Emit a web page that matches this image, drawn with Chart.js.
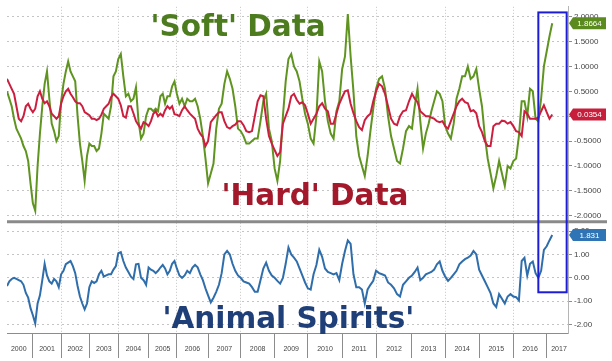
<!DOCTYPE html>
<html><head><meta charset="utf-8">
<script src="https://cdn.jsdelivr.net/npm/chart.js@4.4.1/dist/chart.umd.min.js"></script>
<style>
html,body{margin:0;padding:0;background:#fff;}
#wrap{position:relative;width:612px;height:361px;overflow:hidden;}
#c{position:absolute;left:0;top:0;}
.ttl{position:absolute;font-family:"DejaVu Sans";font-weight:bold;font-size:29.5px;line-height:normal;white-space:nowrap;}
</style></head><body>
<div id="wrap">
<canvas id="c" width="612" height="361"></canvas>
<div class="ttl" style="left:150.5px;top:8.6px;color:#4d7c1f">'Soft' Data</div>
<div class="ttl" style="left:221.5px;top:177.6px;color:#a3182a">'Hard' Data</div>
<div class="ttl" style="left:162.5px;top:300.6px;color:#1f3f78">'Animal Spirits'</div>
</div>
<script>
// ---- data (monthly readings, Feb 2000 .. Mar 2017) ----
const firstYear = 2000;
const firstMonth = 1; // February
const yearLabels = ['2000','2001','2002','2003','2004','2005','2006','2007','2008','2009','2010','2011','2012','2013','2014','2015','2016','2017'];

const softData = [
  0.5, 0.35, 0.2, -0.05, -0.25, -0.35, -0.45, -0.6, -0.7, -0.9, -1.35,
  -1.75, -1.9, -1.0, -0.35, 0.2, 0.65, 0.9, 0.35, -0.15, -0.3, -0.5, -0.4,
  0.3, 0.65, 0.9, 1.1, 0.9, 0.8, 0.7, 0.0, -0.55, -0.9, -1.3, -0.8,
  -0.55, -0.6, -0.6, -0.7, -0.65, -0.35, 0.05, 0.0, -0.05, 0.2, 0.8, 0.9,
  1.15, 1.25, 0.8, 0.4, 0.45, 0.3, 0.35, 0.58, -0.1, -0.45, -0.35, 0.0,
  0.15, 0.15, 0.1, 0.15, 0.1, 0.4, 0.45, 0.25, 0.4, 0.4, 0.6, 0.7,
  0.45, 0.25, 0.35, 0.2, 0.35, 0.3, 0.3, 0.35, 0.2, -0.05, -0.4, -0.85,
  -1.35, -1.15, -0.95, -0.25, 0.15, 0.25, 0.65, 0.9, 0.75, 0.55, 0.2, -0.25,
  -0.3, -0.4, -0.55, -0.55, -0.5, -0.45, -0.45, -0.1, 0.3, 0.45, -0.25, -0.5,
  -1.05, -1.3, -0.9, 0.0, 0.7, 1.15, 1.25, 1.0, 0.9, 0.7, 0.35, 0.05,
  -0.15, -0.45, -0.55, 0.0, 1.1, 0.9, 0.3, -0.1, -0.35, -0.45, 0.1, 0.3,
  0.95, 1.2, 2.05, 1.2, 0.5, -0.4, -0.8, -1.0, -1.2, -0.8, -0.3, 0.15,
  0.55, 0.75, 0.8, 0.55, 0.0, -0.4, -0.65, -0.9, -0.95, -0.65, -0.3, -0.2,
  -0.25, 0.2, 0.55, -0.1, -0.65, -0.35, -0.15, 0.1, 0.3, 0.5, 0.45, 0.3,
  -0.2, -0.35, -0.45, -0.15, 0.35, 0.55, 0.8, 0.8, 1.0, 0.75, 0.8, 0.95,
  0.55, 0.2, -0.4, -0.85, -1.15, -1.45, -1.2, -0.9, -1.15, -1.4, -1.0, -1.05,
  -0.9, -0.85, -0.4, 0.3, 0.3, 0.0, 0.55, 0.5, -0.05, -0.1, 0.35, 1.0,
  1.3, 1.6, 1.8664
];

const hardData = [
  0.75, 0.65, 0.55, 0.45, 0.2, -0.05, -0.1, 0.0, 0.2, 0.25, 0.15,
  0.08, 0.15, 0.4, 0.5, 0.35, 0.26, 0.3, 0.2, 0.05, 0.0, -0.05, 0.0,
  0.25, 0.4, 0.5, 0.55, 0.45, 0.38, 0.3, 0.26, 0.26, 0.2, 0.08, 0.05,
  0.02, -0.05, -0.05, -0.08, -0.05, 0.03, 0.15, 0.2, 0.25, 0.38, 0.45, 0.4,
  0.35, 0.22, 0.0, -0.03, 0.2, 0.2, 0.06, -0.1, -0.18, -0.25, -0.12, -0.15,
  -0.2, -0.1, 0.05, 0.1, 0.0, 0.05, 0.0, 0.12, 0.2, 0.15, 0.2, 0.04,
  0.03, 0.0, 0.12, 0.2, 0.12, 0.05, 0.0, -0.05, -0.25, -0.35, -0.42, -0.6,
  -0.5, -0.12, -0.05, 0.02, 0.08, 0.08, -0.1, -0.22, -0.25, -0.2, -0.17, -0.1,
  -0.1, -0.18, -0.3, -0.32, -0.3, 0.0, 0.3, 0.42, 0.4, -0.05, -0.4, -0.55,
  -0.68, -0.8, -0.72, -0.15, 0.0, 0.15, 0.4, 0.45, 0.33, 0.25, 0.28, 0.22,
  0.05, -0.15, -0.05, 0.05, 0.2, 0.26, 0.15, 0.1, -0.15, -0.15, 0.05, 0.25,
  0.38, 0.5, 0.52, 0.25, 0.06, -0.1, -0.22, -0.28, -0.08, 0.0, 0.05, 0.3,
  0.5, 0.65, 0.6, 0.45, 0.2, -0.05, -0.15, -0.18, 0.0, 0.1, 0.12, 0.3,
  0.45, 0.35, 0.28, 0.1, 0.05, 0.0, 0.0, -0.03, -0.05, -0.1, -0.12, -0.1,
  -0.2, -0.25, -0.1, 0.05, 0.2, 0.3, 0.35, 0.28, 0.26, 0.1, 0.12, 0.06,
  -0.2, -0.32, -0.5, -0.6, -0.6, -0.2, -0.15, -0.15, -0.09, -0.1, -0.15, -0.12,
  -0.2, -0.3, -0.32, -0.4, 0.1, 0.05, -0.05, -0.05, -0.05, -0.03, 0.1, 0.22,
  0.08, -0.05, 0.0354
];

const spiritsData = [
  -0.35, -0.15, -0.05, 0.0, -0.05, -0.1, -0.15, -0.3, -0.65, -0.85, -1.3,
  -1.6, -1.95, -1.1, -0.75, -0.1, 0.6, 0.1, -0.15, -0.25, -0.05, -0.15, -0.4,
  0.15, 0.3, 0.58, 0.65, 0.72, 0.5, 0.2, -0.35, -0.8, -1.1, -1.35, -1.1,
  -0.4, -0.15, -0.22, -0.15, 0.15, 0.3, 0.05, 0.1, 0.15, 0.15, 0.35, 0.5,
  1.05, 1.1, 0.72, 0.44, 0.25, 0.05, -0.05, 0.58, 0.6, 0.0, -0.1, -0.3,
  0.44, 0.35, 0.3, 0.2, 0.3, 0.44, 0.55, 0.4, 0.15, 0.3, 0.6, 0.72,
  0.4, 0.1, 0.0, 0.1, 0.3, 0.2, 0.44, 0.55, 0.45, 0.15, -0.1, -0.45,
  -0.75, -1.05, -0.85, -0.6, -0.3, 0.2, 1.0, 1.15, 1.0, 0.6, 0.3, 0.1,
  0.0, -0.15, -0.2, -0.25, -0.4, -0.6, -0.6, -0.1, 0.4, 0.65, 0.3, 0.1,
  0.0, -0.13, -0.25, 0.0, 0.6, 1.3, 1.0, 0.86, 0.7, 0.4, 0.1, -0.2,
  -0.45, -0.5, 0.15, 0.55, 1.2, 0.9, 0.4, 0.25, 0.2, 0.15, 0.2, -0.1,
  0.6, 1.15, 1.6, 1.45, 0.15, -0.4, -0.4, -0.5, -1.1, -0.5, -0.3, -0.13,
  0.3, 0.2, 0.15, 0.1, -0.2, -0.3, -0.45, -0.7, -0.8, -0.3, -0.15, 0.0,
  0.1, 0.25, 0.44, -0.1, 0.0, 0.15, 0.2, 0.25, 0.35, 0.58, 0.7, 0.3,
  0.05, -0.13, 0.0, 0.15, 0.3, 0.58, 0.7, 0.8, 0.86, 0.95, 1.15, 1.0,
  0.35, 0.1, -0.15, -0.4, -0.65, -1.1, -1.25, -0.7, -0.9, -1.1, -0.8, -0.7,
  -0.8, -0.83, -0.97, 0.72, 0.86, 0.1, 0.6, 0.7, 0.2, 0.0, 0.3, 1.2,
  1.35, 1.6, 1.831
];

// ---- layout / style settings ----
// relative on-screen width of each calendar year on the source chart's time axis
const yearWidths = [28.3, 28.3, 28.3, 29.0, 30.4, 28.3, 31.3, 32.7, 34.0, 33.3, 34.4, 34.0, 36.0, 33.3, 34.0, 34.3, 33.4, 33.4];
const xMax = 2017.64;
const boxFrom = 2016.75, boxTo = 2017.6, boxTopVal = 2.085, boxBottomVal = -0.62;

const softColor = '#5f9420', hardColor = '#cc1f3f', spiritsColor = '#2f6eab';
const axisColor = '#8c8c8c', gridColor = '#c4c4c4', labelColor = '#444';

const dates = softData.map((_, i) => firstYear + (firstMonth + i) / 12);
const pts = arr => arr.map((v, i) => ({x: dates[i], y: v}));

class WarpScale extends Chart.LinearScale {
  warp(v) {
    const n = yearWidths.length;
    let k = Math.floor(v - firstYear);
    k = Math.max(0, Math.min(n - 1, k));
    let p = 0;
    for (let i = 0; i < k; i++) p += yearWidths[i];
    return p + (v - firstYear - k) * yearWidths[k];
  }
  getPixelForValue(value) {
    if (value === null || value === undefined || isNaN(value)) return NaN;
    const a = this.warp(this.min), b = this.warp(this.max);
    return this.getPixelForDecimal((this.warp(value) - a) / (b - a));
  }
  getValueForPixel(pixel) {
    const a = this.warp(this.min), b = this.warp(this.max);
    const t = a + this.getDecimalForPixel(pixel) * (b - a);
    let p = 0;
    for (let i = 0; i < yearWidths.length; i++) {
      if (t <= p + yearWidths[i] || i === yearWidths.length - 1) return firstYear + i + (t - p) / yearWidths[i];
      p += yearWidths[i];
    }
  }
}
WarpScale.id = 'warp';
WarpScale.defaults = Chart.LinearScale.defaults;
Chart.register(WarpScale);

const overlay = {
  id: 'overlay',
  afterDraw(chart) {
    const {ctx, chartArea: ca, scales} = chart;
    const x = scales.x, y = scales.y, y2 = scales.y2;
    ctx.save();
    // panel separator
    ctx.strokeStyle = '#8a8a8a'; ctx.lineWidth = 3;
    ctx.beginPath(); ctx.moveTo(ca.left, y.bottom); ctx.lineTo(chart.width - 5, y.bottom); ctx.stroke();
    // highlight box
    const bx0 = x.getPixelForValue(boxFrom), bx1 = x.getPixelForValue(boxTo);
    const by0 = y.getPixelForValue(boxTopVal), by1 = y2.getPixelForValue(boxBottomVal);
    ctx.strokeStyle = '#1c1cd4'; ctx.lineWidth = 2;
    ctx.strokeRect(bx0, by0, bx1 - bx0, by1 - by0);
    // last value badges
    const badges = [
      {sc: y, v: softData[softData.length - 1], txt: softData[softData.length - 1].toFixed(4), col: '#5b8a1f'},
      {sc: y, v: hardData[hardData.length - 1], txt: hardData[hardData.length - 1].toFixed(4), col: '#c81e3c'},
      {sc: y2, v: spiritsData[spiritsData.length - 1], txt: spiritsData[spiritsData.length - 1].toFixed(3), col: '#2f75b5'}
    ];
    badges.forEach(b => {
      const py = b.sc.getPixelForValue(b.v);
      const left = b.sc.left + 1, w = 37, h = 12;
      ctx.fillStyle = b.col;
      ctx.beginPath();
      ctx.moveTo(left, py); ctx.lineTo(left + 4, py - h / 2); ctx.lineTo(left + w, py - h / 2);
      ctx.lineTo(left + w, py + h / 2); ctx.lineTo(left + 4, py + h / 2); ctx.closePath(); ctx.fill();
      ctx.fillStyle = '#fff'; ctx.font = '8px "Liberation Sans"';
      ctx.textAlign = 'center'; ctx.textBaseline = 'middle';
      ctx.fillText(b.txt, left + 4 + (w - 4) / 2, py + 0.5);
    });
    ctx.restore();
  }
};

new Chart(document.getElementById('c'), {
  type: 'line',
  data: {
    datasets: [
      {label: "'Hard' Data", data: pts(hardData), yAxisID: 'y', borderColor: hardColor, borderWidth: 2, pointRadius: 0, tension: 0},
      {label: "'Soft' Data", data: pts(softData), yAxisID: 'y', borderColor: softColor, borderWidth: 2, pointRadius: 0, tension: 0},
      {label: "'Animal Spirits'", data: pts(spiritsData), yAxisID: 'y2', borderColor: spiritsColor, borderWidth: 2, pointRadius: 0, tension: 0}
    ]
  },
  options: {
    responsive: false,
    animation: false,
    layout: {padding: {left: 7, top: 2, right: 0, bottom: 0}},
    plugins: {legend: {display: false}, tooltip: {enabled: false}},
    scales: {
      x: {
        type: 'warp', min: dates[0], max: xMax,
        afterBuildTicks: s => {
          const t = [];
          yearLabels.forEach((lab, i) => {
            const yr = firstYear + i;
            if (yr > firstYear) t.push({value: yr, kind: 'b'});
            const c = (yr + 1 <= s.max) ? yr + 0.5 : (yr + s.max) / 2 + 0.05;
            t.push({value: c, kind: 'l', yr: lab});
          });
          t.sort((a, b) => a.value - b.value);
          s.ticks = t;
        },
        afterFit: s => { s.height = 28; },
        ticks: {
          autoSkip: false, maxRotation: 0, padding: -13, color: labelColor,
          font: {family: 'Liberation Sans', size: 7},
          callback: function (v, i, ticks) { return ticks[i].yr || ''; }
        },
        grid: {
          color: c => (c.tick && c.tick.kind === 'b' && c.tick.value % 2 === 0) ? gridColor : 'rgba(0,0,0,0)',
          tickColor: c => (c.tick && c.tick.kind === 'b') ? axisColor : 'rgba(0,0,0,0)',
          tickLength: 25, tickBorderDash: [], lineWidth: 1
        },
        border: {display: true, color: axisColor, dash: [1, 2]}
      },
      y: {
        type: 'linear', position: 'right', stack: 'panels', stackWeight: 218,
        min: -2.119, max: 2.198,
        afterFit: s => { s.width = 44; },
        ticks: {stepSize: 0.5, includeBounds: false, padding: 2, color: labelColor,
          font: {family: 'Liberation Sans', size: 8}, callback: v => Number(v).toFixed(4)},
        grid: {color: gridColor, tickColor: axisColor, tickLength: 4, tickBorderDash: []},
        border: {color: '#b5b5b5', dash: [2, 3]}
      },
      y2: {
        type: 'linear', position: 'right', stack: 'panels', stackWeight: 113,
        min: -2.363, max: 2.405,
        afterFit: s => { s.width = 44; },
        ticks: {stepSize: 1, includeBounds: false, padding: 2, color: labelColor,
          font: {family: 'Liberation Sans', size: 8}, callback: v => Number(v).toFixed(2)},
        grid: {color: gridColor, tickColor: axisColor, tickLength: 4, tickBorderDash: []},
        border: {color: '#b5b5b5', dash: [2, 3]}
      }
    }
  },
  plugins: [overlay]
});
</script>
</body></html>
